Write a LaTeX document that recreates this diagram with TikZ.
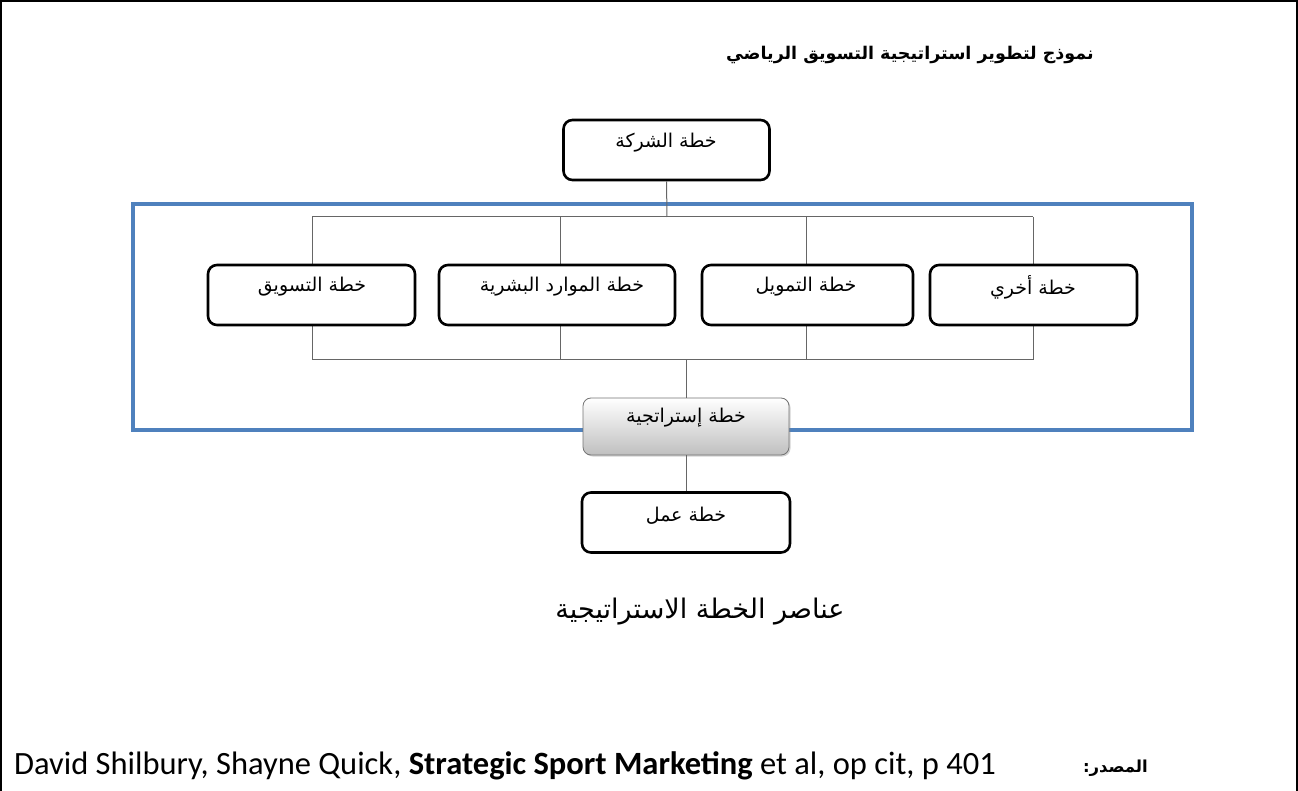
\documentclass[tikz,border=0pt]{standalone}
\usepackage{fontspec}
\setmainfont{Carlito}
\newfontfamily\arabicfont[Script=Arabic]{DejaVu Sans}
\TeXXeTstate=1
\usetikzlibrary{shadows}
\definecolor{frameblue}{HTML}{4F81BD}
\tikzset{
  planbox/.style={draw=black, line width=2.6pt, rounded corners=9pt, fill=white,
    minimum width=206pt, minimum height=60pt, inner sep=0pt},
  boxtext/.style={font=\arabicfont\fontsize{19}{22}\selectfont, inner sep=0pt},
  conn/.style={draw=black!60, line width=1pt},
}
\begin{document}
\begin{tikzpicture}[x=1pt,y=-1pt]
\useasboundingbox (0,0) rectangle (1298,791);
% outer frame
\draw[line width=1.5pt] (1,795) -- (1,1) -- (1297,1) -- (1297,795);
% title
\node[anchor=east, inner sep=0pt, font=\arabicfont\bfseries\fontsize{17.5}{20}\selectfont] (title) at (1094,55) {\beginR نموذج لتطوير استراتيجية التسويق الرياضي\endR};
% blue frame
\draw[frameblue, line width=4.5pt] (133,204) rectangle (1192,430);
% coordinates of the connector grid
\coordinate (t1) at (312,217); \coordinate (t2) at (560,217);
\coordinate (t3) at (806,217); \coordinate (t4) at (1033,217);
\coordinate (b1) at (312,360); \coordinate (b2) at (560,360);
\coordinate (b3) at (806,360); \coordinate (b4) at (1033,360);
\coordinate (tc) at (667,217); \coordinate (bc) at (686,360);
% connectors
\draw[conn] (t1) -- (t4);
\draw[conn] (b1) -- (b4);
\draw[conn] (t1) -- (b1);
\draw[conn] (t2) -- (b2);
\draw[conn] (t3) -- (b3);
\draw[conn] (t4) -- (b4);
% boxes
\node[planbox, minimum width=206pt] (company) at (666.5,150) {};
\node[planbox, minimum width=207pt] (mkt) at (311.5,295) {};
\node[planbox, minimum width=236pt] (hr) at (557,295) {};
\node[planbox, minimum width=211pt] (fin) at (807.5,295) {};
\node[planbox, minimum width=207pt] (oth) at (1033.5,295) {};
\node[draw=black!55, line width=0.8pt, rounded corners=8pt, top color=white, bottom color=black!25,
  drop shadow={shadow xshift=1.5pt, shadow yshift=-1.5pt, opacity=0.35},
  minimum width=206pt, minimum height=57pt, inner sep=0pt] (strat) at (686,426.5) {};
\node[planbox, minimum width=208pt] (work) at (686,522.5) {};
\draw[conn] (company.south) -- (tc);
\draw[conn] (bc) -- (strat.north);
\draw[conn] (strat.south) -- (work.north);
% box texts
\node[boxtext] (company-t) at (666,143) {\beginR خطة الشركة\endR};
\node[boxtext] (mkt-t) at (312,287) {\beginR خطة التسويق\endR};
\node[boxtext] (hr-t) at (562,287) {\beginR خطة الموارد البشرية\endR};
\node[boxtext] (fin-t) at (806,287) {\beginR خطة التمويل\endR};
\node[boxtext] (oth-t) at (1033,287) {\beginR خطة أخري\endR};
\node[boxtext] (strat-t) at (686,418) {\beginR خطة إستراتجية\endR};
\node[boxtext] (work-t) at (686,516) {\beginR خطة عمل\endR};
% caption
\node[inner sep=0pt, font=\arabicfont\fontsize{27}{30}\selectfont] (caption) at (700,612) {\beginR عناصر الخطة الاستراتيجية\endR};
% source line
\node[anchor=base west, font=\fontsize{32.5}{36}\selectfont, inner sep=0pt] (src) at (14,774)
  {David Shilbury, Shayne Quick, \textbf{Strategic Sport Marketing} et al, op cit, p 401};
\node[anchor=base east, font=\arabicfont\bfseries\fontsize{16.5}{20}\selectfont, inner sep=0pt] (srclabel) at (1148,772) {\beginR المصدر:\endR};
\end{tikzpicture}
\end{document}
